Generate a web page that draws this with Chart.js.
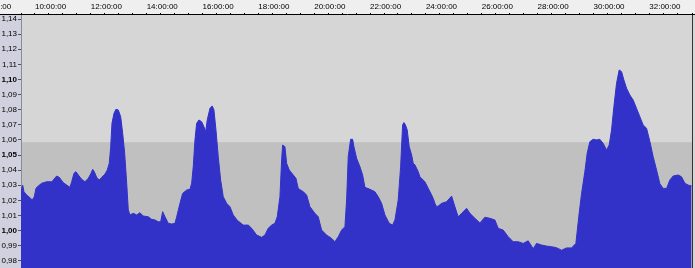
<!DOCTYPE html>
<html>
<head>
<meta charset="utf-8">
<script src="https://cdn.jsdelivr.net/npm/chart.js@4.4.1/dist/chart.umd.min.js"></script>
<style>
  html, body { margin: 0; padding: 0; background: #efefef; overflow: hidden; }
  canvas { display: block; }
</style>
</head>
<body>
<canvas id="c" width="695" height="268"></canvas>
<script>
// time in hours since start of day (elapsed clock time)
const times = [9.500, 9.561, 9.607, 9.704, 9.822, 9.905, 9.976, 10.037, 10.119, 10.241,
  10.420, 10.599, 10.656, 10.778, 10.871, 11.015, 11.136, 11.254, 11.315, 11.398,
  11.469, 11.552, 11.673, 11.791, 11.910, 11.996, 12.067, 12.124, 12.210, 12.303,
  12.389, 12.508, 12.590, 12.661, 12.712, 12.758, 12.830, 12.901, 12.984, 13.070,
  13.141, 13.213, 13.285, 13.342, 13.403, 13.521, 13.642, 13.761, 13.879, 14.058,
  14.180, 14.298, 14.416, 14.502, 14.573, 14.656, 14.774, 14.896, 15.014, 15.075,
  15.193, 15.289, 15.433, 15.551, 15.612, 15.669, 15.730, 15.791, 15.873, 15.970,
  16.052, 16.113, 16.170, 16.267, 16.349, 16.410, 16.482, 16.564, 16.650, 16.743,
  16.865, 16.983, 17.101, 17.244, 17.459, 17.638, 17.760, 17.939, 18.118, 18.236,
  18.354, 18.476, 18.594, 18.677, 18.773, 18.834, 18.870, 18.952, 19.013, 19.106,
  19.250, 19.346, 19.429, 19.514, 19.608, 19.729, 19.847, 20.026, 20.145, 20.266,
  20.445, 20.624, 20.742, 20.861, 20.982, 21.100, 21.161, 21.219, 21.305, 21.376,
  21.423, 21.519, 21.638, 21.734, 21.817, 21.996, 22.175, 22.293, 22.414, 22.533,
  22.687, 22.808, 22.891, 23.009, 23.095, 23.166, 23.213, 23.267, 23.331, 23.403,
  23.489, 23.546, 23.607, 23.725, 23.786, 23.904, 23.965, 24.083, 24.205, 24.262,
  24.323, 24.384, 24.441, 24.563, 24.742, 24.921, 25.039, 25.157, 25.279, 25.458,
  25.576, 25.755, 25.934, 26.113, 26.292, 26.471, 26.589, 26.768, 26.948, 27.126,
  27.305, 27.484, 27.663, 27.843, 27.964, 28.143, 28.322, 28.501, 28.680, 28.859,
  29.038, 29.217, 29.371, 29.489, 29.575, 29.693, 29.776, 29.872, 29.991, 30.112,
  30.230, 30.349, 30.470, 30.564, 30.649, 30.732, 30.828, 30.922, 31.007, 31.090,
  31.187, 31.305, 31.423, 31.544, 31.663, 31.781, 31.903, 32.021, 32.139, 32.261,
  32.379, 32.497, 32.619, 32.737, 32.855, 33.034, 33.155, 33.274, 33.392, 33.514];

const values = [1.027, 1.030, 1.0257, 1.0235, 1.0217, 1.0202, 1.0224, 1.028, 1.0295, 1.0313,
  1.0323, 1.0323, 1.0334, 1.0361, 1.0352, 1.0317, 1.0301, 1.0286, 1.0323, 1.0379,
  1.039, 1.0368, 1.0339, 1.0323, 1.0346, 1.0374, 1.0405, 1.039, 1.0352, 1.0334,
  1.0352, 1.0374, 1.0401, 1.0445, 1.0555, 1.071, 1.0776, 1.0803, 1.0798, 1.0754,
  1.0644, 1.0511, 1.0313, 1.0136, 1.0103, 1.0114, 1.0103, 1.0118, 1.0096, 1.0091,
  1.0074, 1.007, 1.0058, 1.0058, 1.0125, 1.0091, 1.0048, 1.0043, 1.0048, 1.0091,
  1.018, 1.0246, 1.0268, 1.0273, 1.0313, 1.0423, 1.0599, 1.071, 1.0732, 1.072,
  1.0687, 1.0654, 1.0732, 1.0809, 1.0825, 1.0798, 1.0666, 1.0489, 1.0334, 1.0224,
  1.018, 1.0158, 1.0103, 1.0068, 1.0036, 1.0036, 1.0015, 0.997, 0.9955, 0.997,
  1.0015, 1.0036, 1.0048, 1.0091, 1.0224, 1.0467, 1.0566, 1.0555, 1.0445, 1.0401,
  1.0368, 1.0346, 1.0279, 1.0268, 1.0257, 1.0235, 1.0158, 1.0114, 1.0091, 1.0003,
  0.997, 0.9948, 0.9926, 0.9959, 1.0003, 1.0025, 1.0202, 1.0489, 1.0604, 1.0604,
  1.0555, 1.0478, 1.0423, 1.0368, 1.0286, 1.0273, 1.0257, 1.0224, 1.018, 1.0103,
  1.0048, 1.0036, 1.007, 1.0202, 1.0423, 1.0699, 1.0715, 1.070, 1.0666, 1.0555,
  1.05, 1.0445, 1.0435, 1.039, 1.0356, 1.0334, 1.0323, 1.028, 1.0235, 1.0213,
  1.018, 1.0158, 1.0162, 1.018, 1.0191, 1.0228, 1.0158, 1.0091, 1.0114, 1.0147,
  1.0114, 1.0081, 1.0050, 1.0088, 1.0081, 1.007, 1.0015, 1.0003, 0.9959, 0.9926,
  0.9926, 0.9915, 0.9932, 0.9880, 0.9915, 0.9904, 0.9897, 0.9893, 0.9886, 0.9870,
  0.9885, 0.9885, 0.9915, 1.0114, 1.0246, 1.039, 1.0511, 1.0588, 1.0604, 1.0600,
  1.0604, 1.0577, 1.0533, 1.0566, 1.0666, 1.082, 1.0975, 1.1063, 1.1052, 1.0997,
  1.0942, 1.0897, 1.0864, 1.0809, 1.0754, 1.0699, 1.0677, 1.059, 1.0489, 1.0401,
  1.031, 1.0279, 1.0279, 1.0334, 1.0361, 1.0368, 1.0356, 1.0313, 1.0301, 1.0295];

const X_MIN = 9.5, X_MAX = 33.53;        // hours shown
const Y_MIN = 0.9752, Y_MAX = 1.1427;    // value range shown
const BAND_VALUE = 1.0585;               // top of the darker band
const BOLD_TICKS = [1.00, 1.05, 1.10];   // emphasised y labels
const X_LABEL_EVERY = 2;                 // hours between time labels
const EXTRA_LEFT_LABEL_HOUR = 8;         // partially visible label at left edge

const WAVE = 'rgb(50,50,200)';
const FONT = '"Liberation Sans", Arial, sans-serif';

function fmtHour(h) {
  const hh = Math.round(h);
  return (hh < 10 ? '0' : '') + hh + ':00:00';
}
function fmtVal(v) {
  return v.toFixed(2).replace('.', ',');
}

const bgPlugin = {
  id: 'bg',
  beforeDraw(chart) {
    const { ctx, chartArea: a, scales } = chart;
    ctx.save();
    ctx.fillStyle = '#efefef';
    ctx.fillRect(0, 0, chart.width, chart.height);
    ctx.fillStyle = '#d0d1de';
    ctx.fillRect(0, a.top, a.left, chart.height - a.top);
    ctx.fillStyle = '#d6d6d6';
    ctx.fillRect(a.right, a.top, chart.width - a.right, chart.height - a.top);
    ctx.fillStyle = '#d6d6d6';
    ctx.fillRect(a.left, a.top, a.right - a.left, chart.height - a.top);
    const yb = scales.y.getPixelForValue(BAND_VALUE);
    ctx.fillStyle = '#c0c0c0';
    ctx.fillRect(a.left, yb, a.right - a.left, chart.height - yb);
    ctx.restore();
  },
  afterDraw(chart) {
    const { ctx, chartArea: a, scales } = chart;
    ctx.save();
    ctx.strokeStyle = '#333';
    ctx.lineWidth = 1;
    ctx.beginPath();
    ctx.moveTo(Math.round(a.right) + 0.5, a.top);
    ctx.lineTo(Math.round(a.right) + 0.5, chart.height);
    ctx.stroke();
    ctx.strokeStyle = '#000';
    ctx.beginPath();
    ctx.moveTo(0, Math.round(a.top) - 0.5);
    ctx.lineTo(chart.width, Math.round(a.top) - 0.5);
    ctx.stroke();
    const px = scales.x.getPixelForValue(EXTRA_LEFT_LABEL_HOUR);
    ctx.font = '8px ' + FONT;
    ctx.fillStyle = '#000';
    ctx.textAlign = 'left';
    ctx.textBaseline = 'middle';
    ctx.fillText(fmtHour(EXTRA_LEFT_LABEL_HOUR), px + 1, 6.5);
    ctx.restore();
  }
};

new Chart(document.getElementById('c'), {
  type: 'line',
  data: {
    datasets: [{
      data: times.map((t, i) => ({ x: t, y: values[i] })),
      borderColor: WAVE,
      backgroundColor: WAVE,
      borderWidth: 1,
      fill: 'start',
      pointRadius: 0,
      tension: 0
    }]
  },
  options: {
    responsive: false,
    animation: false,
    devicePixelRatio: 1,
    layout: { padding: { left: 0, right: 3, top: 0, bottom: 0 } },
    plugins: { legend: { display: false }, tooltip: { enabled: false } },
    scales: {
      x: {
        type: 'linear',
        position: 'top',
        min: X_MIN,
        max: X_MAX,
        afterFit(s) { s.height = 15; s.paddingLeft = 0; s.paddingRight = 0; },
        ticks: {
          stepSize: 0.5,
          autoSkip: false,
          maxRotation: 0,
          align: 'start',
          padding: 1,
          color: '#000',
          font: { family: FONT, size: 8 },
          callback: (v) => (Math.abs(v % X_LABEL_EVERY) < 1e-6 ? fmtHour(v) : '')
        },
        grid: { drawOnChartArea: false, drawTicks: true, tickLength: 2, color: '#000' },
        border: { display: false }
      },
      y: {
        type: 'linear',
        position: 'left',
        min: Y_MIN,
        max: Y_MAX,
        afterFit(s) { s.width = 21; s.paddingTop = 0; s.paddingBottom = 0; },
        ticks: {
          stepSize: 0.01,
          includeBounds: false,
          autoSkip: false,
          padding: 1,
          color: '#000',
          font: (ctx) => ({
            family: FONT,
            size: 8,
            weight: (ctx.tick && BOLD_TICKS.some(b => Math.abs(b - ctx.tick.value) < 1e-6)) ? 'bold' : 'normal'
          }),
          callback: (v) => fmtVal(v)
        },
        grid: { drawOnChartArea: false, drawTicks: true, tickLength: 3, color: '#555' },
        border: { display: true, color: '#8a8a9a' }
      }
    }
  },
  plugins: [bgPlugin]
});
</script>
</body>
</html>
